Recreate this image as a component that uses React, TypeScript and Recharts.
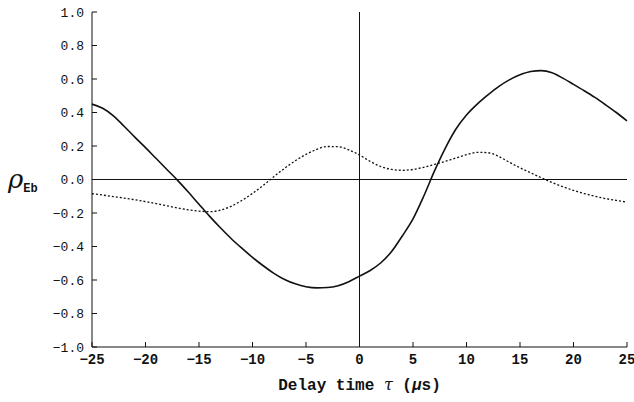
import { LineChart, Line, XAxis, YAxis, ReferenceLine } from "recharts";

// delay time τ in μs
const delay = [
  -25, -24, -23, -22, -21, -20, -19, -18, -17, -16, -15, -14, -13, -12, -11, -10, -9, -8, -7, -6, -5, -4, -3, -2, -1,
  0, 1, 2, 3, 4, 5, 6, 7, 8, 9, 10, 11, 12, 13, 14, 15, 16, 17, 18, 19, 20, 21, 22, 23, 24, 25,
];

// solid curve
const rhoSolid = [
  0.45, 0.425, 0.38, 0.318, 0.253, 0.19, 0.125, 0.06, -0.005, -0.075, -0.148, -0.22, -0.288, -0.352, -0.41, -0.465,
  -0.515, -0.56, -0.597, -0.623, -0.64, -0.647, -0.645, -0.634, -0.61, -0.577, -0.543, -0.497, -0.43, -0.337,
  -0.235, -0.1, 0.05, 0.185, 0.3, 0.385, 0.45, 0.505, 0.555, 0.595, 0.625, 0.645, 0.65, 0.637, 0.605, 0.568, 0.53,
  0.49, 0.446, 0.4, 0.35,
];

// dotted curve
const rhoDotted = [
  -0.085, -0.093, -0.102, -0.111, -0.121, -0.132, -0.144, -0.157, -0.17, -0.181, -0.189, -0.192, -0.183, -0.16,
  -0.125, -0.083, -0.035, 0.017, 0.067, 0.112, 0.15, 0.18, 0.197, 0.196, 0.177, 0.146, 0.108, 0.077, 0.06, 0.055,
  0.06, 0.073, 0.09, 0.108, 0.128, 0.148, 0.162, 0.16, 0.138, 0.103, 0.07, 0.04, 0.01, -0.018, -0.043, -0.065,
  -0.084, -0.1, -0.114, -0.125, -0.135,
];

const xTicks = [-25, -20, -15, -10, -5, 0, 5, 10, 15, 20, 25];
const yTicks = [-1, -0.8, -0.6, -0.4, -0.2, 0, 0.2, 0.4, 0.6, 0.8, 1];

const data = delay.map((t, i) => ({ t, solid: rhoSolid[i], dotted: rhoDotted[i] }));

const fmtY = (v: number) => (v < 0 ? "\u2212" : "") + Math.abs(v).toFixed(1);
const fmtX = (v: number) => (v < 0 ? "\u2212" + Math.abs(v) : String(v));
const blank = () => "";

function XTitle(props: any) {
  const { viewBox } = props;
  const cx = viewBox.x + viewBox.width / 2;
  return (
    <text
      x={cx}
      y={390}
      textAnchor="middle"
      fontFamily="'Liberation Mono', monospace"
      fontWeight="bold"
      fontSize={16}
      fill="#111"
    >
      Delay time <tspan fontFamily="'DejaVu Serif', serif" fontStyle="italic" fontWeight="normal">τ</tspan> (
      <tspan fontStyle="italic">μ</tspan>s)
    </text>
  );
}

function YTitle() {
  return (
    <text x={8} y={188} fill="#111">
      <tspan fontFamily="'DejaVu Serif', serif" fontStyle="italic" fontSize={26}>ρ</tspan>
      <tspan fontFamily="'Liberation Mono', monospace" fontWeight="bold" fontSize={12} dy={4}>Eb</tspan>
    </text>
  );
}

export default function App() {
  return (
    <div style={{ position: "absolute", left: 0, top: 0, width: 634, height: 402, background: "#fff" }}>
      <LineChart width={634} height={402} data={data} margin={{ top: 12, right: 7, left: 42, bottom: 0 }}>
        <XAxis
          dataKey="t"
          type="number"
          domain={[-25, 25]}
          ticks={xTicks}
          tickFormatter={fmtX}
          height={55}
          stroke="#111"
          tickSize={-5}
          tickMargin={12}
          tick={{ fill: "#111", fontSize: 14, fontWeight: "bold", fontFamily: "'Liberation Mono', monospace" }}
          label={<XTitle />}
        />
        <XAxis
          xAxisId="top"
          orientation="top"
          dataKey="t"
          type="number"
          domain={[-25, 25]}
          ticks={xTicks}
          tickFormatter={blank}
          height={0}
          stroke="#111"
          tickSize={-5}
        />
        <YAxis
          type="number"
          domain={[-1, 1]}
          ticks={yTicks}
          tickFormatter={fmtY}
          width={50}
          stroke="#111"
          tickSize={-5}
          tickMargin={13}
          tick={{ fill: "#111", fontSize: 13, fontFamily: "'Liberation Mono', monospace" }}
          label={<YTitle />}
        />
        <YAxis
          yAxisId="right"
          orientation="right"
          type="number"
          domain={[-1, 1]}
          ticks={yTicks}
          tickFormatter={blank}
          width={0}
          stroke="#111"
          tickSize={-5}
        />
        <ReferenceLine x={0} stroke="#111" strokeWidth={1} />
        <ReferenceLine y={0} stroke="#111" strokeWidth={1.2} />
        <Line
          type="monotone"
          dataKey="dotted"
          stroke="#111"
          strokeWidth={1.3}
          strokeDasharray="2 2"
          dot={false}
          isAnimationActive={false}
        />
        <Line
          type="monotone"
          dataKey="solid"
          stroke="#111"
          strokeWidth={1.6}
          dot={false}
          isAnimationActive={false}
        />
      </LineChart>
    </div>
  );
}
